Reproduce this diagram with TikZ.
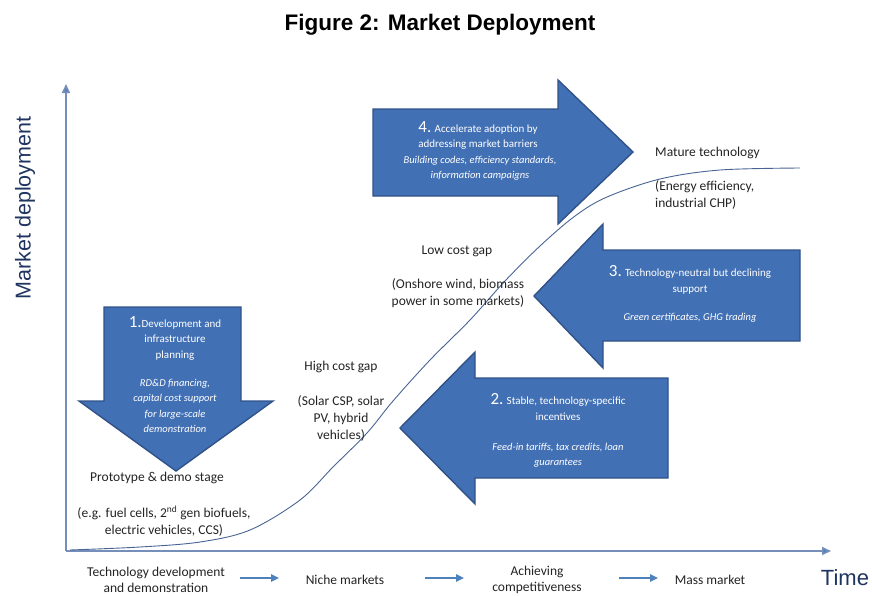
\documentclass[tikz,border=0pt]{standalone}
\usepackage{fontspec}
\setmainfont{Carlito}
\newfontfamily\arialfont{Liberation Sans}
\usetikzlibrary{arrows.meta}

\definecolor{arrowfill}{RGB}{66,112,180}
\definecolor{arrowedge}{RGB}{48,82,136}
\definecolor{axisblue}{RGB}{118,142,186}
\definecolor{navy}{RGB}{31,52,96}
\definecolor{curveblue}{RGB}{72,100,148}
\definecolor{flowblue}{RGB}{79,129,189}
\definecolor{txt}{RGB}{35,35,35}

\newcommand{\bignum}[1]{{\fontsize{17}{15}\selectfont #1}}

\tikzset{
  blockarrow/.style={fill=arrowfill, draw=arrowedge, line width=1.4pt, line join=miter},
  intext/.style={text=white, align=center, font=\fontsize{11}{15.5}\selectfont, inner sep=0pt},
  initalic/.style={intext, font=\fontsize{10.5}{15.5}\selectfont\itshape},
  label/.style={text=txt, align=center, font=\fontsize{13.5}{17}\selectfont, inner sep=0pt},
  bigtitle/.style={text=navy, font=\arialfont\fontsize{21.5}{22}\selectfont, inner sep=0pt},
  axis/.style={draw=axisblue, line width=1.6pt, -{Triangle[length=9pt,width=8pt,fill=flowblue]}},
  flow/.style={draw=flowblue, line width=1.5pt, -{Triangle[length=8pt,width=7.5pt]}},
  scurve/.style={draw=curveblue, line width=0.9pt}
}

\begin{document}
\begin{tikzpicture}[x=1pt,y=-1pt]
\useasboundingbox (0,0) rectangle (872,595);

% title
\node[font=\arialfont\bfseries\fontsize{22.5}{23}\selectfont, text=black, inner sep=0pt] (title) at (440,25) {Figure 2: Market Deployment};

% axes
\coordinate (origin) at (66,551);
\coordinate (ytop) at (66,84);
\coordinate (xend) at (831,551);
\draw[axis] (origin) -- (ytop);
\draw[axis] (origin) -- (xend);
\node[bigtitle, rotate=90] (ylab) at (25,208) {Market deployment};
\node[bigtitle, font=\arialfont\fontsize{22}{22}\selectfont] (xlab) at (845,578) {Time};

% block arrows
% 1: downward
\draw[blockarrow] (104,307) -- (241,307) -- (241,401) -- (273,401) -- (176,471) -- (79,401) -- (104,401) -- cycle;
% 2: leftward
\draw[blockarrow] (668,378) -- (475,378) -- (475,352) -- (400,428) -- (475,504) -- (475,478) -- (668,478) -- cycle;
% 3: leftward
\draw[blockarrow] (800,250) -- (603,250) -- (603,224) -- (534,296) -- (603,368) -- (603,341) -- (800,341) -- cycle;
% 4: rightward
\draw[blockarrow] (373,109) -- (558,109) -- (558,80) -- (633,152) -- (558,224) -- (558,196) -- (373,196) -- cycle;

% texts inside the arrows
\node[intext] (a1h) at (175,338) {\bignum{1.}Development and\\infrastructure\\planning};
\node[initalic] (a1i) at (175,406) {RD\&D financing,\\capital cost support\\for large-scale\\demonstration};

\node[intext] (a2h) at (558,407) {\bignum{2.} Stable, technology-specific\\incentives};
\node[initalic] (a2i) at (558,455) {Feed-in tariffs, tax credits, loan\\guarantees};

\node[intext] (a3h) at (690,280) {\bignum{3.} Technology-neutral but declining\\support};
\node[initalic] (a3i) at (690,318) {Green certificates, GHG trading};

\node[intext] (a4h) at (478,135.5) {\bignum{4.} Accelerate adoption by\\addressing market barriers};
\node[initalic] (a4i) at (480,168) {Building codes, efficiency standards,\\information campaigns};

% S-curve of market deployment
\draw[scurve] plot[smooth, tension=0.55] coordinates {
  (70,550) (140,547) (200,542) (250,530) (300,500) (333,467) (367,433)
  (393,401) (430,360) (470,320) (505,281) (540,246) (575,216) (607,197)
  (660,179) (720,170) (800,168)};

% stage labels along the curve
\node[label] (proto) at (157,478) {Prototype \& demo stage};
\node[label] (protoex) at (164,521) {(e.g. fuel cells, 2\textsuperscript{nd} gen biofuels,\\electric vehicles, CCS)};

\node[label] (high) at (341,367) {High cost gap};
\node[label] (highex) at (341,418) {(Solar CSP, solar\\PV, hybrid\\vehicles)};

\node[label] (low) at (457,251) {Low cost gap};
\node[label] (lowex) at (458,293) {(Onshore wind, biomass\\power in some markets)};

\node[label, anchor=west] (mature) at (655,153) {Mature technology};
\node[label, anchor=west, align=left] (matureex) at (655,195) {(Energy efficiency,\\industrial CHP)};

% phases along the time axis
\node[label, font=\fontsize{13.5}{16.5}\selectfont] (p1) at (156,580) {Technology development\\and demonstration};
\node[label] (p2) at (345,580) {Niche markets};
\node[label, font=\fontsize{13.5}{16.5}\selectfont] (p3) at (537,580) {Achieving\\competitiveness};
\node[label] (p4) at (710,580) {Mass market};

\coordinate (f1a) at (240,578); \coordinate (f1b) at (279,578);
\coordinate (f2a) at (425,578); \coordinate (f2b) at (464,578);
\coordinate (f3a) at (619,578); \coordinate (f3b) at (658,578);
\draw[flow] (f1a) -- (f1b);
\draw[flow] (f2a) -- (f2b);
\draw[flow] (f3a) -- (f3b);
\end{tikzpicture}
\end{document}
